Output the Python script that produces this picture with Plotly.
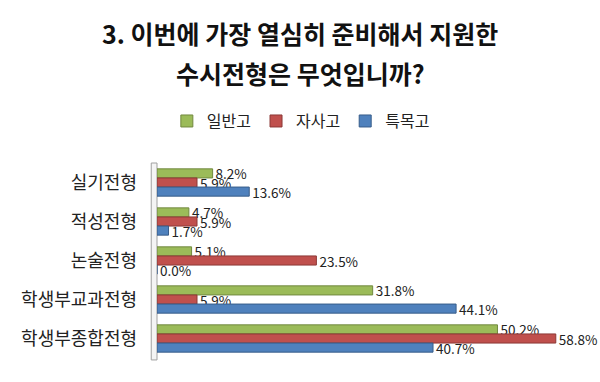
import plotly.graph_objects as go

categories = ["실기전형", "적성전형", "논술전형", "학생부교과전형", "학생부종합전형"]
series_names = ["일반고", "자사고", "특목고"]
general = [8.2, 4.7, 5.1, 31.8, 50.2]
autonomous = [5.9, 5.9, 23.5, 5.9, 58.8]
special = [13.6, 1.7, 0.0, 44.1, 40.7]
colors = ["#9BBB59", "#C0504D", "#4F81BD"]
edge_colors = ["#71893F", "#8C3836", "#385D8A"]

font_family = "Noto Sans CJK KR, Noto Sans, sans-serif"

fig = go.Figure()
for name, vals, c, ec in zip(series_names, [general, autonomous, special], colors, edge_colors):
    fig.add_trace(go.Bar(
        y=categories, x=vals, name=name, orientation="h",
        marker=dict(color=c, line=dict(color=ec, width=1)),
        texttemplate="%{x:.1f}%", textposition="outside", constraintext="none",
        textfont=dict(size=13.5, color="#222222", family=font_family),
        cliponaxis=False,
    ))

fig.update_layout(
    width=600, height=382,
    margin=dict(l=157, r=32, t=163, b=24, autoexpand=False),
    paper_bgcolor="white", plot_bgcolor="white",
    barmode="group", bargap=0.3, bargroupgap=0,
    font=dict(family=font_family, color="#222222"),
    legend=dict(orientation="h", x=0.35, xanchor="center", y=1.215, yanchor="middle",
                font=dict(size=16, color="#222222"), itemwidth=30, traceorder="normal"),
    showlegend=True,
    xaxis=dict(range=[0, 60.6], visible=False),
    yaxis=dict(autorange="reversed", showline=False, ticks="", ticklabelstandoff=19,
               tickfont=dict(size=18, color="#222222")),
    annotations=[
        dict(text="<b>3. 이번에 가장 열심히 준비해서 지원한</b>", xref="paper", yref="paper",
             x=0.348, y=1.667, xanchor="center", yanchor="middle", showarrow=False,
             font=dict(size=25, color="#111111")),
        dict(text="<b>수시전형은 무엇입니까?</b>", xref="paper", yref="paper",
             x=0.348, y=1.4615, xanchor="center", yanchor="middle", showarrow=False,
             font=dict(size=25, color="#111111")),
    ],
    shapes=[
        dict(type="rect", xref="paper", yref="paper", x0=-0.014, x1=0.0, y0=-0.01, y1=1.0,
             line=dict(color="#A0A0A0", width=1), fillcolor="#F4F4F4", layer="below"),
    ],
)

fig.write_html("out.html", config={"displayModeBar": False},
               post_script="document.body.style.margin='0';document.body.style.padding='0';")
